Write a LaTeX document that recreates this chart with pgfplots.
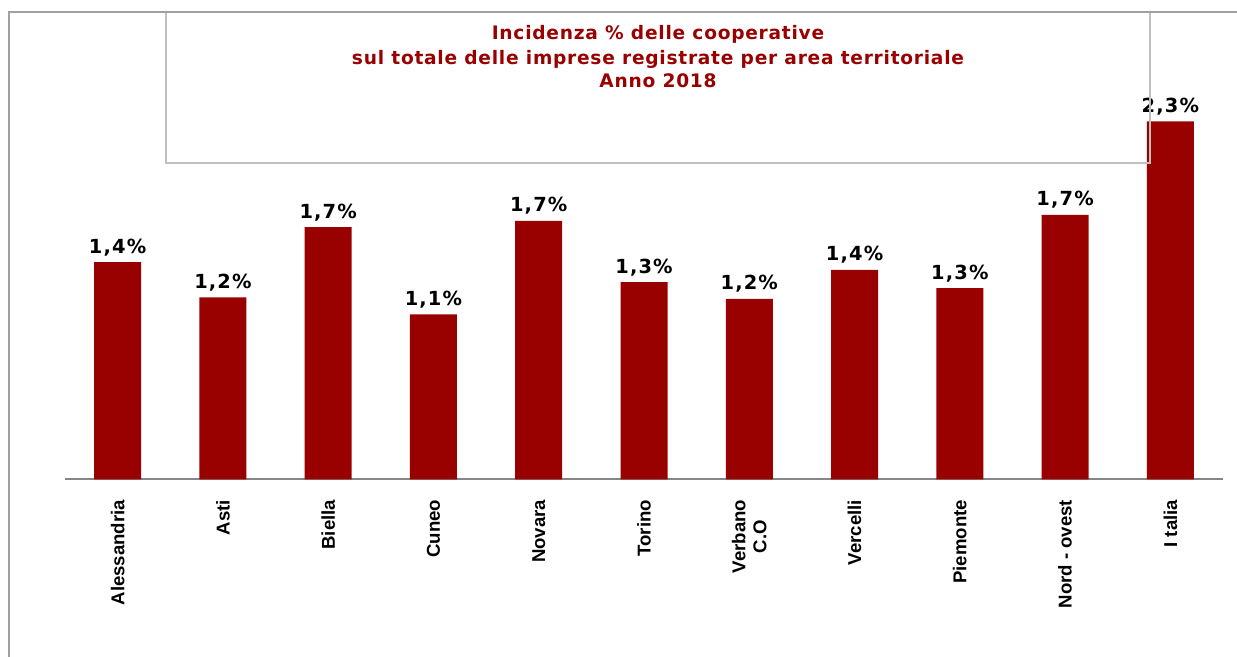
\documentclass[border=0pt]{standalone}
\usepackage{fontspec}
\setmainfont{Liberation Sans}
\newfontfamily\djsans{DejaVu Sans}[LetterSpace=6]
\newfontfamily\djtitle{DejaVu Sans}[LetterSpace=4]
\usepackage{pgfplots}
\pgfplotsset{compat=1.18}
\definecolor{barred}{RGB}{153,0,0}
\definecolor{titlered}{RGB}{153,0,0}
\definecolor{framegray}{RGB}{160,160,160}
\definecolor{boxgray}{RGB}{192,192,192}
\definecolor{axisgray}{RGB}{134,134,134}
\begin{document}
\begin{tikzpicture}
\begin{axis}[
    at={(0,0)}, anchor=south west,
    scale only axis,
    width=579pt, height=233.75pt,
    xmin=-0.5, xmax=10.5,
    ymin=0, ymax=3.0556,
    axis x line=bottom,
    axis y line=none,
    x axis line style={axisgray, line width=1pt, -},
    xtick=data,
    xticklabels={Alessandria, Asti, Biella, Cuneo, Novara, Torino, {Verbano\\C.O}, Vercelli, Piemonte, Nord - ovest, I talia},
    major tick length=0pt,
    xticklabel style={rotate=90, anchor=east, align=center, inner sep=0pt,
        font=\fontsize{9.3}{10.5}\selectfont\bfseries},
    xticklabel shift=10pt,
    ybar, bar width=23.5pt,
    nodes near coords,
    point meta=explicit symbolic,
    every node near coord/.style={anchor=base, inner sep=0pt, yshift=4.5pt,
        font=\djsans\bfseries\fontsize{9.7}{11}\selectfont, black},
]
\addplot[fill=barred, draw=none] coordinates {
    (0,1.42) [1,4\%]
    (1,1.19) [1,2\%]
    (2,1.65) [1,7\%]
    (3,1.08) [1,1\%]
    (4,1.69) [1,7\%]
    (5,1.29) [1,3\%]
    (6,1.18) [1,2\%]
    (7,1.37) [1,4\%]
    (8,1.25) [1,3\%]
    (9,1.73) [1,7\%]
    (10,2.34) [2,3\%]
};
\end{axis}
% title box and outer frame
\draw[boxgray, line width=1pt] (50.5pt,233.75pt) rectangle (542.5pt,158.25pt);
\draw[framegray, line width=1pt] (600pt,233.75pt) -- (-28pt,233.75pt) -- (-28pt,-100pt);
\begin{scope}[every node/.style={anchor=base, inner sep=0pt, text=titlered,
        font=\djtitle\fontsize{9.3}{11}\selectfont\bfseries}]
\node at (296.5pt,219.75pt) {Incidenza \% delle cooperative};
\node at (296.5pt,207.25pt) {sul totale delle imprese registrate per area territoriale};
\node at (296.5pt,195.75pt) {Anno 2018};
\end{scope}
\pgfresetboundingbox
\path[use as bounding box] (-32.5pt,-88.75pt) rectangle (586pt,239.75pt);
\end{tikzpicture}
\end{document}
